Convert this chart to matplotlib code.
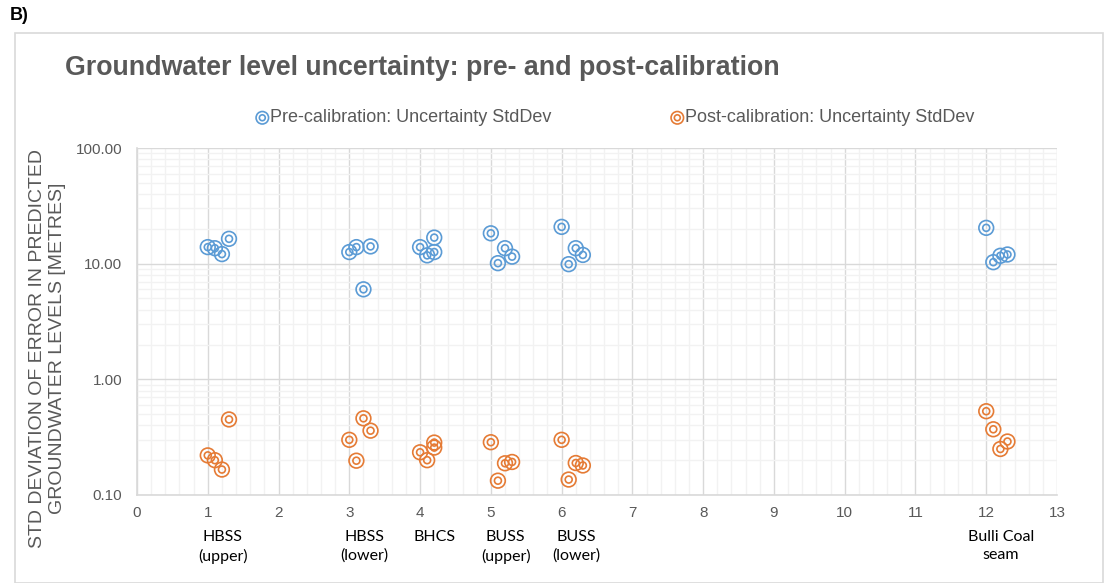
import matplotlib
matplotlib.use("Agg")
from matplotlib import pyplot as plt
from matplotlib.legend_handler import HandlerTuple
from matplotlib.patches import Rectangle
from matplotlib.ticker import MultipleLocator, LogLocator, FixedLocator, FuncFormatter
import numpy as np

plt.rcParams['font.family'] = ['Liberation Sans', 'DejaVu Sans']

# unit positions (small offsets so points in one unit don't overlap)
pre_x = [1.0, 1.1, 1.2, 1.3,
         3.0, 3.1, 3.2, 3.3,
         4.0, 4.1, 4.2, 4.2,
         5.0, 5.1, 5.2, 5.3,
         6.0, 6.1, 6.2, 6.3,
         12.0, 12.1, 12.2, 12.3]
pre_std = [13.9, 13.6, 12.1, 16.4,
           12.6, 13.9, 6.0, 14.1,
           13.9, 11.8, 16.8, 12.6,
           18.3, 10.1, 13.6, 11.5,
           20.8, 9.9, 13.6, 11.9,
           20.4, 10.3, 11.7, 12.0]
post_x = pre_x
post_std = [0.22, 0.20, 0.166, 0.45,
            0.30, 0.198, 0.46, 0.36,
            0.234, 0.20, 0.284, 0.257,
            0.286, 0.133, 0.188, 0.193,
            0.30, 0.136, 0.189, 0.180,
            0.53, 0.37, 0.25, 0.29]

unit_pos = [1, 3, 4, 5, 6, 12]
unit_names = ['HBSS\n(upper)', 'HBSS\n(lower)', 'BHCS', 'BUSS\n(upper)', 'BUSS\n(lower)', 'Bulli Coal\nseam']

blue = '#5B9BD5'
orange = '#E57B35'
grey_txt = '#595959'

fig = plt.figure(figsize=(11.04, 5.83), dpi=100)
ax = fig.add_axes([137/1104, 1 - 495/583, 920/1104, 347/583])

def rings(x, y, c):
    outer = ax.scatter(x, y, s=112, facecolors='none', edgecolors=c, linewidths=1.2, zorder=3)
    inner = ax.scatter(x, y, s=25, facecolors='none', edgecolors=c, linewidths=1.2, zorder=3)
    return (outer, inner)

h1 = rings(pre_x, pre_std, blue)
h2 = rings(post_x, post_std, orange)

ax.set_yscale('log')
ax.set_ylim(0.1, 100)
ax.set_xlim(0, 13)
ax.xaxis.set_major_locator(MultipleLocator(1))
ax.xaxis.set_minor_locator(MultipleLocator(0.2))
ax.yaxis.set_major_locator(FixedLocator([0.1, 1, 10, 100]))
ax.yaxis.set_minor_locator(LogLocator(base=10, subs=np.arange(2, 10)))
ax.yaxis.set_major_formatter(FuncFormatter(lambda v, p: '%.2f' % v))
ax.yaxis.set_minor_formatter(FuncFormatter(lambda v, p: ''))

ax.grid(which='major', color='#D9D9D9', linewidth=1.0)
ax.grid(which='minor', color='#F2F2F2', linewidth=1.0)
ax.set_axisbelow(True)
for s in ['top', 'right']:
    ax.spines[s].set_visible(False)
for s in ['left', 'bottom']:
    ax.spines[s].set_color('#D9D9D9')
    ax.spines[s].set_linewidth(1.2)
ax.tick_params(which='both', length=0, colors=grey_txt, labelsize=11)
ax.tick_params(axis='y', pad=10.5)
ax.tick_params(axis='x', pad=8)

# unit names under the number ticks, centred on each group of points
for xp, name in zip(unit_pos, unit_names):
    ax.text(xp + 0.21, -0.10, name, transform=ax.get_xaxis_transform(), ha='center', va='top',
            fontsize=11.5, family=['Lato', 'DejaVu Sans'], linespacing=1.4, color='black')

fig.text(47.5/1104, 1 - 348/583, 'STD DEVIATION OF ERROR IN PREDICTED\nGROUNDWATER LEVELS [METRES]',
         rotation=90, ha='center', va='center', multialignment='center', fontsize=14,
         color=grey_txt, linespacing=1.2)

fig.text(65/1104, 1 - 68/583, 'Groundwater level uncertainty: pre- and post-calibration',
         ha='left', va='center', fontsize=19.3, fontweight='bold', color=grey_txt)
fig.text(10/1104, 1 - 15/583, 'B)', ha='left', va='center', fontsize=13, fontweight='bold')

fig.legend([h1, h2], ['Pre-calibration: Uncertainty StdDev', 'Post-calibration: Uncertainty StdDev'],
           handler_map={tuple: HandlerTuple(ndivide=1)}, ncol=2, loc='center',
           bbox_to_anchor=(614.5/1104, 1 - 118/583), frameon=False, fontsize=13,
           labelcolor=grey_txt, columnspacing=6.6, handletextpad=0.0, handlelength=0.8,
           markerscale=0.85)

fig.add_artist(Rectangle((15/1104, 0), 1 - 16/1104, 1 - 33/583, transform=fig.transFigure,
                         fill=False, edgecolor='#D9D9D9', linewidth=1.2))

fig.savefig('out.png', dpi=100)
